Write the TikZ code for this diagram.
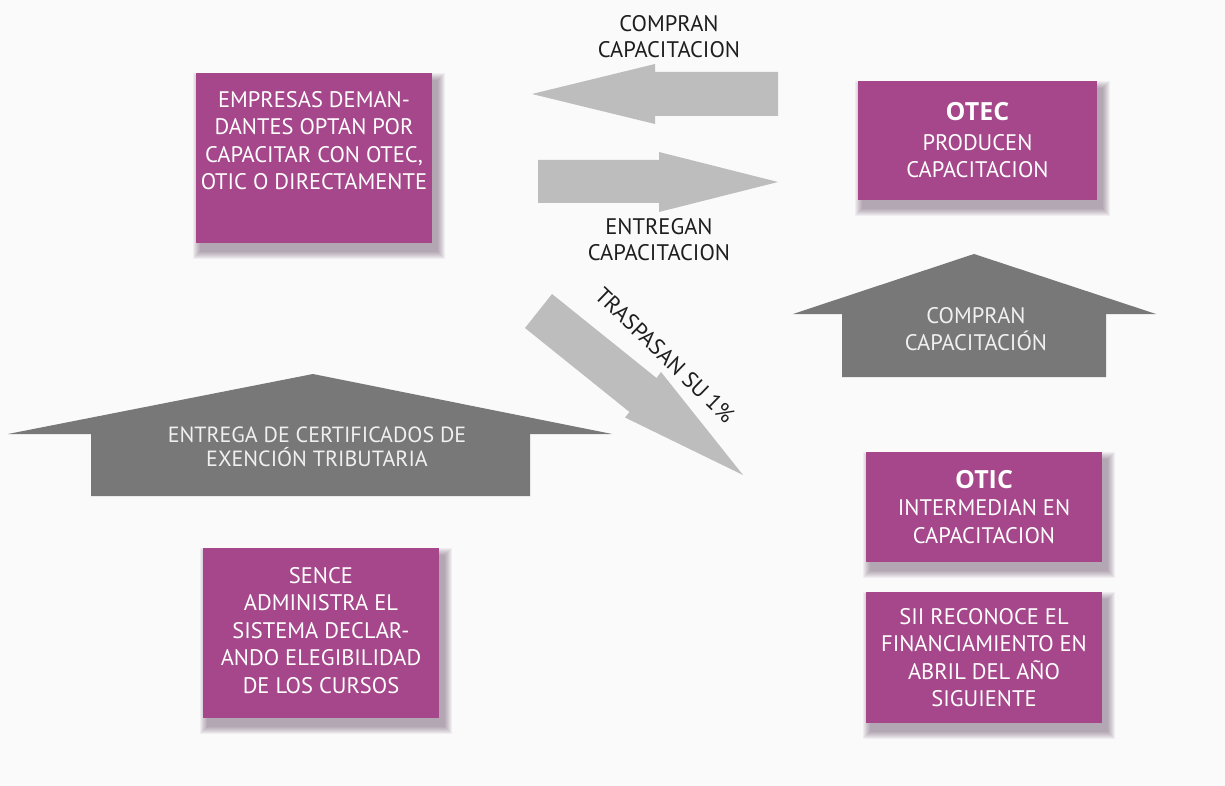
\documentclass[tikz,border=0pt]{standalone}
\usepackage{fontspec}
\setmainfont{PT Sans}
\newfontfamily\titulofont{Open Sans}
\usetikzlibrary{backgrounds}

\definecolor{fondo}{RGB}{250,250,250}
\definecolor{morado}{RGB}{165,71,138}
\definecolor{sombra}{RGB}{75,40,75}
\definecolor{grisclaro}{RGB}{189,189,189}
\definecolor{grisoscuro}{RGB}{120,120,120}
\definecolor{textoclaro}{RGB}{240,240,240}
\definecolor{textooscuro}{RGB}{30,30,30}
\newcommand{\titulocaja}{\titulofont\fontsize{25}{27.5}\selectfont\bfseries}

\begin{document}
\begin{tikzpicture}[
        x=1pt, y=-1pt,
        caja/.style={fill=morado, text=white, font=\fontsize{22.5}{27.5}\selectfont, align=center, inner sep=0pt, minimum width=236pt},
        flechaclara/.style={fill=grisclaro},
        casa/.style={fill=grisoscuro},
        lbl/.style={text=textooscuro, font=\fontsize{22.5}{26}\selectfont, align=center, inner sep=0pt},
        lblcasa/.style={text=textoclaro, font=\fontsize{22.5}{27}\selectfont, align=center, inner sep=0pt}
    ]
    \useasboundingbox (0,0) rectangle (1225,786);

    % Cajas
    \node[caja, minimum height=170pt, text depth=35pt] (empresas) at (314,158)
        {EMPRESAS DEMAN-\\DANTES OPTAN POR\\CAPACITAR CON OTEC,\\OTIC O DIRECTAMENTE};
    \node[caja, minimum width=239pt, minimum height=119pt] (otec) at (977.5,140.5)
        {{\titulocaja OTEC}\\[2pt]PRODUCEN\\CAPACITACION};
    \node[caja, minimum height=110pt] (otic) at (984,507)
        {{\titulocaja OTIC}\\INTERMEDIAN EN\\CAPACITACION};
    \node[caja, minimum height=131pt] (sii) at (984,657.5)
        {SII RECONOCE EL\\FINANCIAMIENTO EN\\ABRIL DEL AÑO\\SIGUIENTE};
    \node[caja, minimum height=170pt, text depth=6pt] (sence) at (321,633)
        {SENCE\\ADMINISTRA EL\\SISTEMA DECLAR-\\ANDO ELEGIBILIDAD\\DE LOS CURSOS};

    % Flechas entre empresas y OTEC
    \fill[flechaclara] (778,72) -- (655,72) -- (655,64) -- (532,94) -- (655,124) -- (655,116) -- (778,116) -- cycle;
    \fill[flechaclara] (538,160) -- (659,160) -- (659,152) -- (778,182) -- (659,212) -- (659,203) -- (538,203) -- cycle;
    \node[lbl] (lblcompran) at (669,37) {COMPRAN\\CAPACITACION};
    \node[lbl] (lblentregan) at (659,240) {ENTREGAN\\CAPACITACION};

    % Traspaso a OTIC
    \fill[flechaclara] (552,294) -- (656.5,378) -- (661,372) -- (743,475) -- (625,417.5) -- (629.5,412) -- (525,328) -- cycle;
    \node[lbl, rotate=-44] (lbltraspasan) at (665,355) {TRASPASAN SU 1\%};

    % Casas
    \fill[casa] (974,254) -- (1156,314) -- (1106,314) -- (1106,377) -- (842,377) -- (842,314) -- (793,314) -- cycle;
    \node[lblcasa] (lblcompran2) at (976,329) {COMPRAN\\CAPACITACIÓN};
    \fill[casa] (313,374) -- (612,434) -- (530,434) -- (530,496) -- (91,496) -- (91,434) -- (8,434) -- cycle;
    \node[lblcasa, font=\fontsize{22}{24}\selectfont] (lblcertificados) at (317,447)
        {ENTREGA DE CERTIFICADOS DE\\EXENCIÓN TRIBUTARIA};

    % Fondo y sombras
    \begin{scope}[on background layer]
        \fill[fondo] (0,0) rectangle (1225,786);
        \foreach \caja in {empresas,otec,otic,sii,sence}
            \foreach \k in {1,...,8}
                \fill[sombra, opacity=0.06] ([shift={(5-\k,8-\k)}]\caja.north west) rectangle ([shift={(5+\k,8+\k)}]\caja.south east);
    \end{scope}

\end{tikzpicture}
\end{document}
